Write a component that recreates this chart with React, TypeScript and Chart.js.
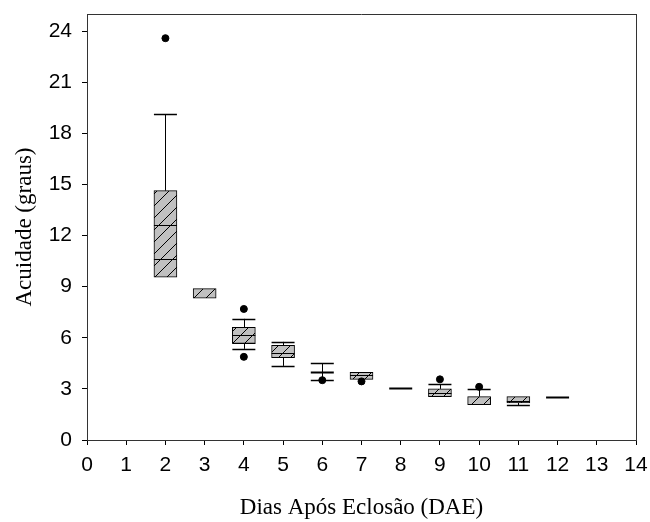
import React, { useEffect, useRef } from "react";
import { Chart, registerables } from "chart.js";

Chart.register(...registerables);

// Days after hatching (DAE)
const days = [2, 3, 4, 5, 6, 7, 8, 9, 10, 11, 12];
// Box bounds (25th / 75th percentiles)
const q1 = [9.55, 8.32, 5.67, 4.83, 3.98, 3.56, 3.06, 2.54, 2.07, 2.17, 2.55];
const q3 = [14.63, 8.88, 6.61, 5.55, 3.98, 3.97, 3.06, 3.0, 2.55, 2.55, 2.55];
// Lines inside boxes (median and mean)
const medians = [10.6, null, 6.14, 5.1, 3.98, 3.8, 3.06, 2.77, null, 2.26, 2.55];
const means = [12.61, null, 5.7, null, null, null, null, null, null, null, null];
// Whiskers
const whiskerHigh = [19.13, null, 7.11, 5.76, 4.51, null, null, 3.27, 3.0, null, null];
const whiskerLow = [null, null, 5.35, 4.35, 3.51, null, null, null, null, 2.05, null];
// Outliers
const outlierDays = [2, 4, 4, 6, 7, 9, 10];
const outlierValues = [23.58, 7.69, 4.88, 3.51, 3.44, 3.56, 3.12];

const yTicks = [0, 3, 6, 9, 12, 15, 18, 21, 24];

const tickFont = { family: "'Liberation Sans', Arial, sans-serif", size: 21 };
const titleFont = { family: "'Liberation Serif', 'Times New Roman', serif", size: 23 };

function makeHatch(): CanvasPattern | string {
  const c = document.createElement("canvas");
  const s = 12;
  c.width = s;
  c.height = s;
  const g = c.getContext("2d");
  if (!g) return "#c0c0c0";
  g.fillStyle = "#c0c0c0";
  g.fillRect(0, 0, s, s);
  g.strokeStyle = "#000";
  g.lineWidth = 1;
  g.beginPath();
  g.moveTo(-1, s + 1);
  g.lineTo(s + 1, -1);
  g.moveTo(-1, 1);
  g.lineTo(1, -1);
  g.moveTo(s - 1, s + 1);
  g.lineTo(s + 1, s - 1);
  g.stroke();
  const p = g.createPattern(c, "repeat");
  return p || "#c0c0c0";
}

const boxPlugin = {
  id: "boxExtras",
  afterDatasetsDraw(chart: any) {
    const ctx = chart.ctx;
    const xs = chart.scales.x;
    const ys = chart.scales.y;
    const half = 11.5;
    ctx.save();
    ctx.strokeStyle = "#000";
    const hline = (cx: number, v: number, w: number) => {
      const py = Math.round(ys.getPixelForValue(v)) + 0.5;
      ctx.lineWidth = w;
      ctx.beginPath();
      ctx.moveTo(cx - half, py);
      ctx.lineTo(cx + half, py);
      ctx.stroke();
    };
    const vline = (cx: number, a: number, b: number) => {
      ctx.lineWidth = 1;
      ctx.beginPath();
      ctx.moveTo(Math.round(cx) + 0.5, ys.getPixelForValue(a));
      ctx.lineTo(Math.round(cx) + 0.5, ys.getPixelForValue(b));
      ctx.stroke();
    };
    days.forEach((d, i) => {
      const cx = xs.getPixelForValue(d);
      const hi = whiskerHigh[i];
      const lo = whiskerLow[i];
      if (hi != null) {
        vline(cx, q3[i], hi);
        hline(cx, hi, 1.5);
      }
      if (lo != null) {
        vline(cx, q1[i], lo);
        hline(cx, lo, 1.5);
      }
      const m = medians[i];
      if (m != null) hline(cx, m, q1[i] === q3[i] ? 2 : 1);
      const mn = means[i];
      if (mn != null) hline(cx, mn, 1);
    });
    ctx.restore();
  },
  afterDraw(chart: any) {
    const { ctx, chartArea } = chart;
    ctx.save();
    ctx.strokeStyle = "#333";
    ctx.lineWidth = 1;
    ctx.beginPath();
    ctx.moveTo(chartArea.left, Math.round(chartArea.top) + 0.5);
    ctx.lineTo(chartArea.right, Math.round(chartArea.top) + 0.5);
    ctx.moveTo(Math.round(chartArea.right) + 0.5, chartArea.top);
    ctx.lineTo(Math.round(chartArea.right) + 0.5, chartArea.bottom);
    ctx.stroke();
    ctx.restore();
  },
};

export default function App() {
  const ref = useRef<HTMLCanvasElement | null>(null);

  useEffect(() => {
    if (!ref.current) return;
    const hatch = makeHatch();
    const boxData = days
      .map((d, i) => ({ x: d, y: [q1[i], q3[i]] }))
      .filter((p) => p.y[1] > p.y[0]);
    const outliers = outlierDays.map((d, i) => ({ x: d, y: outlierValues[i] }));

    const chart = new Chart(ref.current, {
      type: "bar",
      data: {
        datasets: [
          {
            type: "bar",
            data: boxData as any,
            backgroundColor: hatch as any,
            borderColor: "#000",
            borderWidth: 1,
            borderSkipped: false,
            barThickness: 23,
            order: 2,
          },
          {
            type: "scatter",
            data: outliers as any,
            backgroundColor: "#000",
            borderColor: "#000",
            pointRadius: 3.5,
            pointHoverRadius: 3.5,
            order: 1,
          },
        ],
      } as any,
      options: {
        animation: false,
        responsive: true,
        maintainAspectRatio: false,
        layout: { padding: { left: 0, top: 14, right: 14, bottom: 0 } },
        plugins: {
          legend: { display: false },
          tooltip: { enabled: false },
        },
        scales: {
          x: {
            type: "linear",
            min: 0,
            max: 14,
            offset: false,
            grid: {
              offset: false,
              drawOnChartArea: false,
              drawTicks: true,
              tickLength: 5,
              color: "#000",
            },
            border: { color: "#333", width: 1 },
            ticks: {
              stepSize: 1,
              includeBounds: false,
              color: "#000",
              font: tickFont,
              padding: 8,
              maxRotation: 0,
              autoSkip: false,
            },
            title: {
              display: true,
              text: "Dias Após Eclosão (DAE)",
              color: "#000",
              font: titleFont,
              padding: { top: 0, bottom: 0 },
            },
            afterFit: (s: any) => {
              s.height = 82;
              s.paddingLeft = 0;
              s.paddingRight = 0;
            },
          },
          y: {
            type: "linear",
            min: 0,
            max: 25,
            grid: {
              drawOnChartArea: false,
              drawTicks: true,
              tickLength: 5,
              color: "#000",
            },
            border: { color: "#333", width: 1 },
            ticks: {
              stepSize: 3,
              includeBounds: false,
              color: "#000",
              font: tickFont,
              padding: 10,
              callback: (v: any) => (yTicks.includes(Number(v)) ? String(v) : ""),
            },
            title: {
              display: true,
              text: "Acuidade (graus)",
              color: "#000",
              font: titleFont,
              padding: { top: 11, bottom: 0 },
            },
            afterFit: (s: any) => {
              s.width = 87;
              s.paddingTop = 0;
              s.paddingBottom = 0;
            },
          },
        },
      } as any,
      plugins: [boxPlugin],
    });
    return () => chart.destroy();
  }, []);

  return (
    <div style={{ position: "absolute", left: 0, top: 0, width: 650, height: 522 }}>
      <canvas ref={ref} />
    </div>
  );
}
